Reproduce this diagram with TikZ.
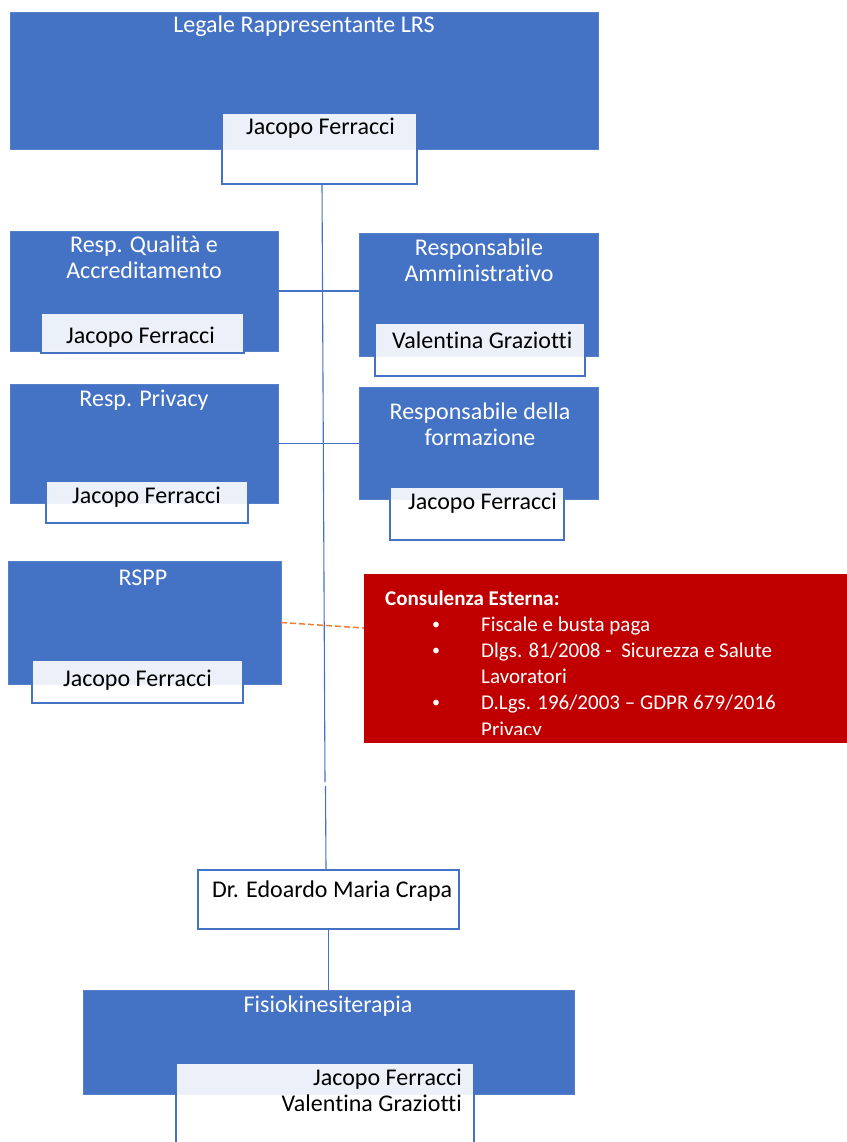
\documentclass[tikz,border=0pt]{standalone}
\usepackage{fontspec}
\setmainfont{Carlito}[Ligatures=NoCommon]
\usetikzlibrary{calc}
\definecolor{oblue}{HTML}{4472C4}
\definecolor{ored}{HTML}{C00000}
\definecolor{oorange}{HTML}{ED7D31}
\tikzset{
  basebox/.style={anchor=north west, inner sep=0pt, outer sep=0pt},
  bluebox/.style={basebox, fill=oblue, draw=oblue!90!white, line width=0.6pt},
  namebox/.style={basebox, fill=white, fill opacity=0.9, draw=oblue, line width=1.8pt},
  wbox/.style={basebox, fill=white, fill opacity=0.92, draw=oblue, line width=2pt},
  redbox/.style={basebox, fill=ored},
  ttltxt/.style={anchor=base, inner sep=0pt, text=white, align=center, font=\fontsize{24}{26}\selectfont},
  nametxt/.style={anchor=base west, inner sep=0pt, text=black, font=\fontsize{24}{26}\selectfont},
  redtxt/.style={anchor=base west, inner sep=0pt, text=white, font=\fontsize{21}{26}\selectfont},
  conn/.style={draw=oblue, line width=1.1pt},
  dashconn/.style={draw=oorange, line width=1.5pt, dash pattern=on 6pt off 3pt}
}
\begin{document}
\begin{tikzpicture}[x=1pt,y=-1pt]
\useasboundingbox (0,0) rectangle (846,1142);
\fill[white] (0,0) rectangle (846,1142);

% blue boxes
\node[bluebox, minimum width=588, minimum height=137] (b0) at (10,12) {};
\node[bluebox, minimum width=268, minimum height=120] (b1) at (10,231) {};
\node[bluebox, minimum width=239, minimum height=123] (b2) at (359,233) {};
\node[bluebox, minimum width=268, minimum height=119] (b3) at (10,384) {};
\node[bluebox, minimum width=239, minimum height=112] (b4) at (359,387) {};
\node[bluebox, minimum width=273, minimum height=123] (b5) at (8,561) {};
\node[bluebox, minimum width=491, minimum height=104] (b6) at (83,990) {};
\node[redbox, minimum width=490, minimum height=169] (red) at (364,574) {};

% name boxes
\node[namebox, minimum width=195, minimum height=71] (n0) at (222,113) {};
\node[namebox, minimum width=203, minimum height=40] (n1) at (41,313) {};
\node[namebox, minimum width=210, minimum height=53] (n2) at (375,323) {};
\node[namebox, minimum width=202, minimum height=42] (n3) at (46,481) {};
\node[namebox, minimum width=174, minimum height=53] (n4) at (390,487) {};
\node[namebox, minimum width=211, minimum height=43] (n5) at (32,660) {};
\node[namebox, minimum width=298, minimum height=100] (n6) at (176,1063) {};

% connectors
\coordinate (g1) at (325,782);
\coordinate (g2) at (325.5,786);
\draw[conn] ([xshift=2.5]n0.south) -- (g1);
\node[wbox, minimum width=261, minimum height=59] (crapa) at (198,870) {};
\draw[conn] (g2) -- ([xshift=-2.5]crapa.north);
\draw[conn] (crapa.south) -- (crapa.south |- b6.north);
\draw[conn] (b1.east) -- (b1.east -| b2.west);
\draw[conn] (b3.east) -- (b3.east -| b4.west);
\draw[dashconn] (b5.east) -- ($(red.north west)+(0,54)$);

% titles (multi-line nodes: base = last line)
\node[ttltxt] (t0) at (304,33) {Legale Rappresentante LRS};
\node[ttltxt] (t1) at (144,278) {Resp. Qualità e\\Accreditamento};
\node[ttltxt] (t2) at (479,281) {Responsabile\\Amministrativo};
\node[ttltxt] (t3) at (144,406) {Resp. Privacy};
\node[ttltxt] (t4) at (480,445) {Responsabile della\\formazione};
\node[ttltxt] (t5) at (143,585) {RSPP};
\node[ttltxt] (t6) at (328,1012) {Fisiokinesiterapia};

% names
\node[nametxt] (m0) at (246,135) {Jacopo Ferracci};
\node[nametxt] (m1) at (66,343) {Jacopo Ferracci};
\node[nametxt] (m2) at (392,348) {Valentina Graziotti};
\node[nametxt] (m3) at (72,503) {Jacopo Ferracci};
\node[nametxt] (m4) at (408,509) {Jacopo Ferracci};
\node[nametxt] (m5) at (63,686) {Jacopo Ferracci};
\node[nametxt] (m7) at (212,897) {Dr. Edoardo Maria Crapa};
\node[nametxt, anchor=base east, align=right] (m6) at (462,1111) {Jacopo Ferracci\\Valentina Graziotti};

% red box text
\begin{scope}
\clip (364,574) rectangle (846,734);
\node[redtxt, font=\fontsize{21}{26}\selectfont\bfseries] (c0) at (385,605) {Consulenza Esterna:};
\node[redtxt, font=\fontsize{16}{26}\selectfont] (c1b) at (432,629) {•};
\node[redtxt] (c1) at (481,631) {Fiscale e busta paga};
\node[redtxt, font=\fontsize{16}{26}\selectfont] (c2b) at (432,655) {•};
\node[redtxt] (c2) at (481,657) {Dlgs. 81/2008 -~ Sicurezza e Salute};
\node[redtxt] (c3) at (481,683) {Lavoratori};
\node[redtxt, font=\fontsize{16}{26}\selectfont] (c4b) at (432,707) {•};
\node[redtxt] (c4) at (481,709) {D.Lgs. 196/2003 – GDPR 679/2016};
\node[redtxt] (c5) at (481,736) {Privacy};
\end{scope}
\end{tikzpicture}
\end{document}
